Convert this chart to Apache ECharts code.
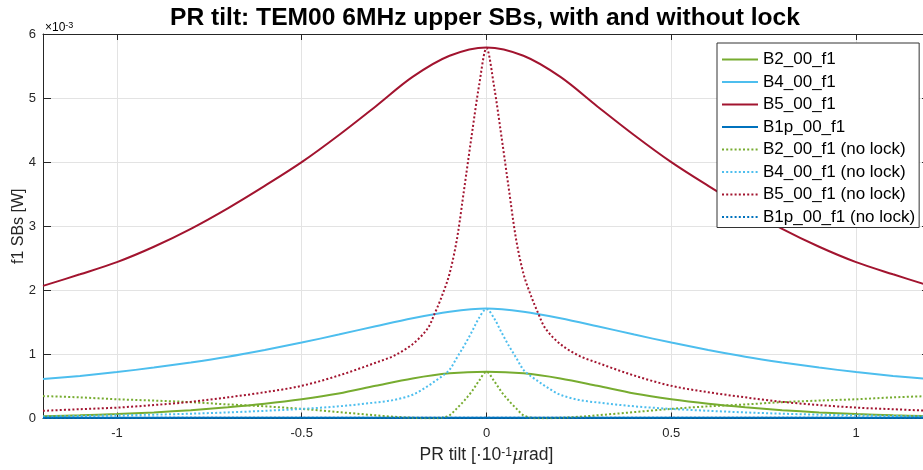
<!DOCTYPE html>
<html>
<head>
<meta charset="utf-8">
<script src="https://cdn.jsdelivr.net/npm/echarts@6/dist/echarts.min.js"></script>
<style>
html,body{margin:0;padding:0;background:#fff;}
#chart{width:923px;height:470px;}
</style>
</head>
<body>
<div id="chart"></div>
<script>
// x positions, PR tilt [x 1e-1 urad]; solid (locked) curves sampled evenly
const tiltLock = [-1.2,-1.1,-1.0,-0.9,-0.8,-0.7,-0.6,-0.5,-0.4,-0.3,-0.2,-0.1,0,
                  0.1,0.2,0.3,0.4,0.5,0.6,0.7,0.8,0.9,1.0,1.1,1.2];
// dotted (no lock) curves sampled densely near the centre
const tiltNoLock = [-1.2,-1.1,-1.0,-0.9,-0.8,-0.7,-0.6,-0.5,-0.4,-0.3,-0.25,-0.2,-0.16,-0.14,-0.12,-0.1,-0.08,-0.06,-0.04,-0.02,0,
                    0.02,0.04,0.06,0.08,0.1,0.12,0.14,0.16,0.2,0.25,0.3,0.4,0.5,0.6,0.7,0.8,0.9,1.0,1.1,1.2];
// values in units of 1e-3 W
const B2_lock  = [0.035,0.05,0.07,0.095,0.13,0.175,0.23,0.30,0.39,0.51,0.625,0.705,0.73,
                  0.705,0.625,0.51,0.39,0.30,0.23,0.175,0.13,0.095,0.07,0.05,0.035];
const B4_lock  = [0.615,0.665,0.725,0.795,0.875,0.965,1.07,1.185,1.31,1.44,1.565,1.665,1.715,
                  1.665,1.565,1.44,1.31,1.185,1.07,0.965,0.875,0.795,0.725,0.665,0.615];
const B5_lock  = [2.07,2.25,2.44,2.68,2.96,3.28,3.63,4.00,4.42,4.87,5.33,5.66,5.79,
                  5.66,5.33,4.87,4.42,4.00,3.63,3.28,2.96,2.68,2.44,2.25,2.07];
const B1p_lock = [0.01,0.01,0.01,0.01,0.01,0.01,0.01,0.01,0.01,0.01,0.01,0.01,0.01,
                  0.01,0.01,0.01,0.01,0.01,0.01,0.01,0.01,0.01,0.01,0.01,0.01];
const B2_nolock = [0.35,0.33,0.30,0.28,0.255,0.22,0.19,0.15,0.10,0.05,0.027,0.01,0.003,0.003,0.012,0.05,0.16,0.28,0.42,0.59,0.73,
                   0.59,0.42,0.28,0.16,0.05,0.012,0.003,0.003,0.01,0.027,0.05,0.10,0.15,0.19,0.22,0.255,0.28,0.30,0.33,0.35];
const B4_nolock = [0.03,0.04,0.05,0.06,0.075,0.095,0.12,0.15,0.19,0.25,0.29,0.37,0.50,0.58,0.66,0.76,0.95,1.14,1.35,1.57,1.71,
                   1.57,1.35,1.14,0.95,0.76,0.66,0.58,0.50,0.37,0.29,0.25,0.19,0.15,0.12,0.095,0.075,0.06,0.05,0.04,0.03];
const B5_nolock = [0.12,0.145,0.17,0.21,0.26,0.33,0.41,0.51,0.67,0.87,0.98,1.16,1.40,1.64,1.92,2.26,2.80,3.60,4.42,5.20,5.78,
                   5.20,4.42,3.60,2.80,2.26,1.92,1.64,1.40,1.16,0.98,0.87,0.67,0.51,0.41,0.33,0.26,0.21,0.17,0.145,0.12];
const B1p_nolock = [0.01,0.01,0.01,0.01,0.01,0.01,0.01,0.01,0.01,0.01,0.01,0.01,0.01,0.01,0.01,0.01,0.01,0.01,0.01,0.01,0.01,
                    0.01,0.01,0.01,0.01,0.01,0.01,0.01,0.01,0.01,0.01,0.01,0.01,0.01,0.01,0.01,0.01,0.01,0.01,0.01,0.01];
const seriesNames = ['B2_00_f1','B4_00_f1','B5_00_f1','B1p_00_f1',
  'B2_00_f1 (no lock)','B4_00_f1 (no lock)','B5_00_f1 (no lock)','B1p_00_f1 (no lock)'];
const seriesValues = [B2_lock,B4_lock,B5_lock,B1p_lock,B2_nolock,B4_nolock,B5_nolock,B1p_nolock];
const colors = ['#77AC30','#4DBEEE','#A2142F','#0072BD'];
const yTicks = [0,1,2,3,4,5,6];

const FONT = 'Liberation Sans, Arial, Helvetica, sans-serif';
const AX = '#262626';
const chart = echarts.init(document.getElementById('chart'), null, {renderer:'canvas'});

const series = seriesValues.map((vals, i) => {
  const dotted = i >= 4;
  const xs = dotted ? tiltNoLock : tiltLock;
  return {
    name: seriesNames[i],
    type: 'line',
    data: xs.map((x, k) => [x, vals[k]]),
    showSymbol: false,
    symbol: 'none',
    smooth: 0.33,
    clip: true,
    lineStyle: { color: colors[i % 4], width: 2, type: dotted ? [2, 2.2] : 'solid' },
    itemStyle: { color: colors[i % 4] },
    emphasis: { disabled: true },
    animation: false
  };
});

chart.setOption({
  animation: false,
  backgroundColor: '#fff',
  title: {
    text: 'PR tilt: TEM00 6MHz upper SBs, with and without lock',
    left: 480, top: 1, textAlign: 'center',
    textStyle: { fontFamily: FONT, fontSize: 24.6, fontWeight: 'bold', color: '#000' }
  },
  grid: { left: 43, right: -7, top: 34, bottom: 51.5, containLabel: false, outerBoundsMode: 'none' },
  legend: {
    data: seriesNames,
    orient: 'vertical', left: 717, top: 43,
    itemWidth: 36, itemHeight: 14, itemGap: 5.5,
    padding: [8, 4, 2, 4],
    borderColor: '#333', borderWidth: 1, backgroundColor: '#fff',
    selectedMode: false,
    itemStyle: { opacity: 0 },
    textStyle: { fontFamily: FONT, fontSize: 17, color: '#000', lineHeight: 14 }
  },
  xAxis: [{
    type: 'value', min: -1.2, max: 1.2, splitNumber: 5,
    axisLine: { show: true, onZero: false, lineStyle: { color: AX, width: 1 } },
    axisTick: { show: true, inside: true, length: 6, lineStyle: { color: AX } },
    axisLabel: { showMinLabel: false, showMaxLabel: false, color: AX, fontFamily: FONT, fontSize: 13, margin: 8 },
    splitLine: { show: true, lineStyle: { color: '#e3e3e3', width: 1 } },
    name: '{t|PR tilt [·10}{s|-1}{m|μ}{t|rad]}',
    nameLocation: 'middle', nameGap: 28, nameMoveOverlap: false,
    nameTextStyle: { fontFamily: FONT, color: AX, fontSize: 17.5,
      rich: { t: { fontFamily: FONT, fontSize: 17.5, color: AX },
              s: { fontFamily: FONT, fontSize: 12, color: AX, verticalAlign: 'top', padding: [0, 0, 6, 0] },
              m: { fontFamily: 'DejaVu Serif, serif', fontStyle: 'italic', fontSize: 17.5, color: AX } } }
  }, {
    type: 'value', position: 'top', min: -1.2, max: 1.2, splitNumber: 5,
    axisLine: { show: true, onZero: false, lineStyle: { color: AX, width: 1 } },
    axisTick: { show: true, inside: true, length: 6, lineStyle: { color: AX } },
    axisLabel: { show: false }, splitLine: { show: false }
  }],
  yAxis: [{
    type: 'value', min: 0, max: 6, interval: 1,
    axisLine: { show: true, onZero: false, lineStyle: { color: AX, width: 1 } },
    axisTick: { show: true, inside: true, length: 8, lineStyle: { color: AX } },
    axisLabel: { color: AX, fontFamily: FONT, fontSize: 13, margin: 7,
      formatter: v => yTicks.indexOf(v) >= 0 ? String(v) : '' },
    splitLine: { show: true, lineStyle: { color: '#e3e3e3', width: 1 } },
    name: 'f1 SBs [W]', nameLocation: 'middle', nameGap: 16, nameRotate: 90, nameMoveOverlap: false,
    nameTextStyle: { fontFamily: FONT, color: AX, fontSize: 16 }
  }, {
    type: 'value', position: 'right', min: 0, max: 6, interval: 1,
    axisLine: { show: true, onZero: false, lineStyle: { color: AX, width: 1 } },
    axisTick: { show: true, inside: true, length: 8, lineStyle: { color: AX } },
    axisLabel: { show: false }, splitLine: { show: false }
  }],
  graphic: [{
    type: 'text', left: 45, top: 21,
    style: { text: '{a|×10}{b|-3}', rich: {
      a: { fontFamily: FONT, fontSize: 12, color: AX },
      b: { fontFamily: FONT, fontSize: 9, color: AX, verticalAlign: 'top', padding: [0, 0, 5, 0] } } }
  }],
  series: series
});
</script>
</body>
</html>
